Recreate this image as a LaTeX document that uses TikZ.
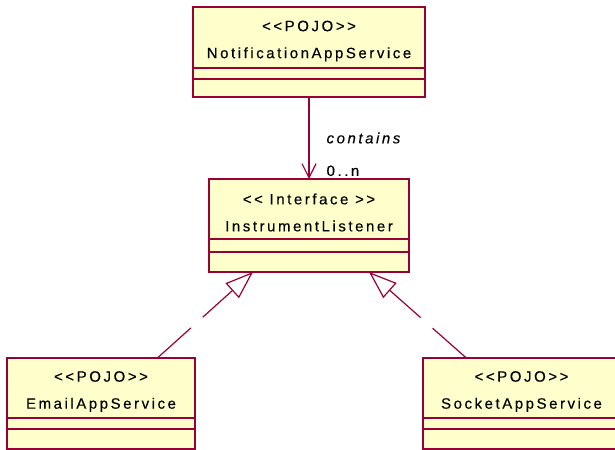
\documentclass[tikz,border=0pt]{standalone}
\usepackage{fontspec}
\setmainfont{Liberation Sans}[LetterSpace=17, Ligatures=TeXOff, FakeBold=0.3]
\usetikzlibrary{arrows.meta,positioning,calc}
\definecolor{umlred}{RGB}{153,0,51}
\definecolor{umlfill}{RGB}{255,255,204}

\begin{document}
\begin{tikzpicture}[x=1bp, y=-1bp,
    cls/.style={draw=umlred, fill=umlfill, line width=1.2bp, outer sep=0pt, inner sep=0pt},
    clstext/.style={align=center, inner sep=0pt, yshift=-3.5bp, font=\fontsize{15bp}{27bp}\selectfont},
    part/.style={draw=umlred, fill=umlfill, line width=1.2bp, outer sep=0pt, inner sep=0pt},
    lbl/.style={font=\fontsize{15bp}{18bp}\selectfont, inner sep=0pt},
    assoc/.style={draw=umlred, line width=1.2bp, -{Straight Barb[length=14bp, width=14bp]}},
    real/.style={draw=umlred, line width=1.2bp, dash pattern=on 45bp off 16bp, -{Triangle[open, length=28bp, width=20bp, fill=white]}}
]
\useasboundingbox (0,0) rectangle (615,450);

% Notification service
\node[cls, minimum width=232bp, minimum height=61bp,
    label={[clstext, name=notif-txt]center:{<<POJO>>\\NotificationAppService}}] (notif) at (309,37.5) {};
\node[part, minimum width=232bp, minimum height=11bp, below=0pt of notif] (notif-a) {};
\node[part, minimum width=232bp, minimum height=18bp, below=0pt of notif-a] (notif-b) {};

% Listener interface
\node[cls, minimum width=200bp, minimum height=60bp,
    label={[clstext, name=iface-txt]center:{<< Interface >>\\InstrumentListener}}] (iface) at (309,209) {};
\node[part, minimum width=200bp, minimum height=13bp, below=0pt of iface] (iface-a) {};
\node[part, minimum width=200bp, minimum height=20bp, below=0pt of iface-a] (iface-b) {};

% Email service
\node[cls, minimum width=188bp, minimum height=60bp,
    label={[clstext, name=email-txt]center:{<<POJO>>\\EmailAppService}}] (email) at (101,388) {};
\node[part, minimum width=188bp, minimum height=11bp, below=0pt of email] (email-a) {};
\node[part, minimum width=188bp, minimum height=20bp, below=0pt of email-a] (email-b) {};

% Socket service
\node[cls, minimum width=197bp, minimum height=60bp,
    label={[clstext, name=socket-txt]center:{<<POJO>>\\SocketAppService}}] (socket) at (521.5,388) {};
\node[part, minimum width=197bp, minimum height=11bp, below=0pt of socket] (socket-a) {};
\node[part, minimum width=197bp, minimum height=20bp, below=0pt of socket-a] (socket-b) {};

% Connectors
\draw[assoc] (notif-b) -- node[lbl, right=17bp, font=\fontsize{15bp}{18bp}\selectfont\itshape] (contains) {contains}
    node[lbl, pos=0.9, right=17bp] (mult) {0..n} (iface);
\draw[real] ($(email.north west)!0.8!(email.north east)$) -- ($(iface-b.south west)!0.22!(iface-b.south east)$);
\draw[real] ($(socket.north west)!0.22!(socket.north east)$) -- ($(iface-b.south west)!0.8!(iface-b.south east)$);
\end{tikzpicture}
\end{document}
